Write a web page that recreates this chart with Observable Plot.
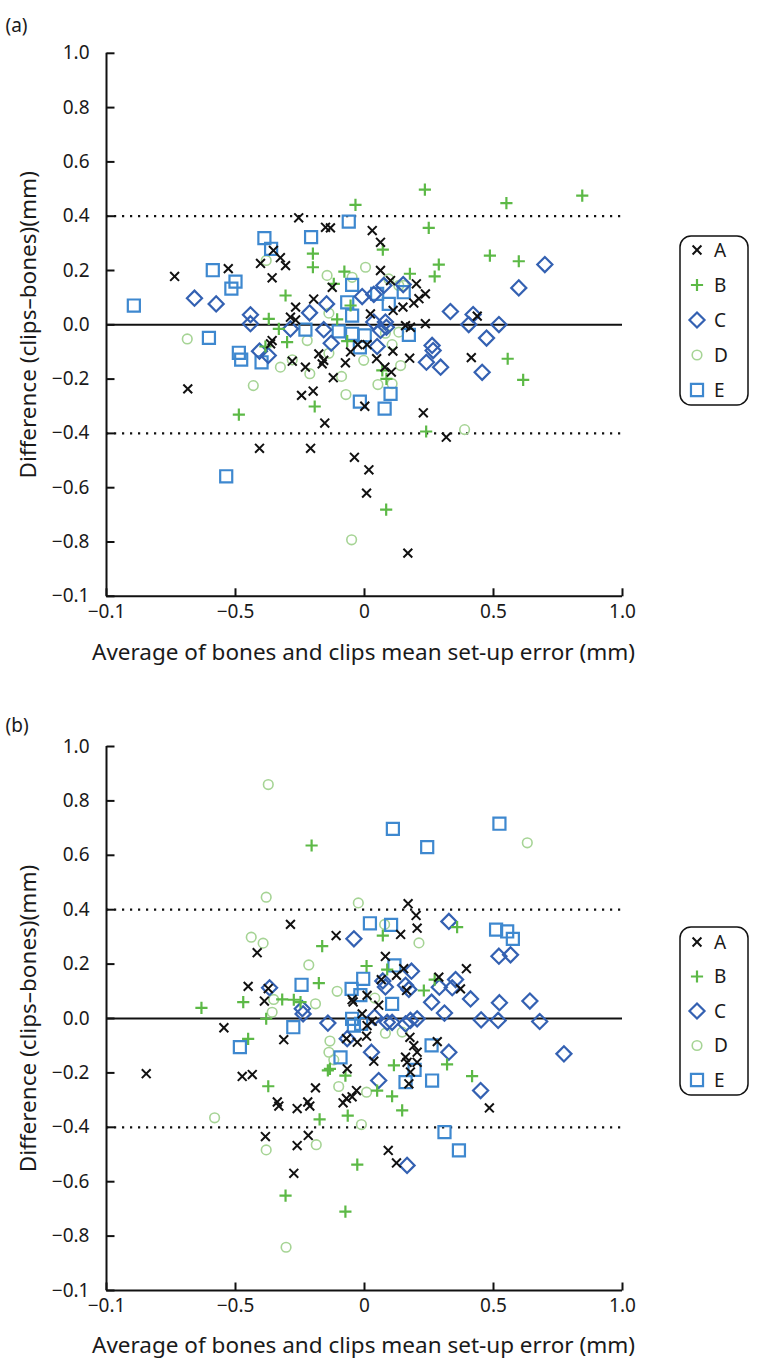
<!DOCTYPE html>
<html><head><meta charset="utf-8">
<script src="https://cdn.jsdelivr.net/npm/d3@7"></script>
<script src="https://cdn.jsdelivr.net/npm/@observablehq/plot@0.6"></script>
<style>
body{margin:0;background:#fff;font-family:"Noto Sans",sans-serif;}
.panel{position:relative;width:760px;}
</style></head><body>
<div id="pa" class="panel"></div>
<div id="pb" class="panel"></div>
<script>
// ---- categories, styles ----
const groups = ["A","B","C","D","E"];
const colors = ["#111111","#5cb946","#3461b2","#a6d495","#3e88cf"];
const symbolNames = ["times","plus","diamond2","circle","square"];
const radii = [4.1,4.0,6.8,4.8,6.8];
const strokeWidths = [2,2.2,2.2,1.6,2.2];
const drawOrder = [3,4,2,1,0];

// ---- axes ----
const xDomain = [-1, 1];
const yDomain = [-1, 1];
const yTicks = [-1,-0.8,-0.6,-0.4,-0.2,0,0.2,0.4,0.6,0.8,1];
const yTickLabels = ["−0.1","−0.8","−0.6","−0.4","−0.2","0.0","0.2","0.4","0.6","0.8","1.0"];
const xTicks = [-1,-0.5,0,0.5,1];
const xTickLabels = ["−0.1","−0.5","0","0.5","1.0"];
const limits = [-0.4, 0.4];
const meanLine = [0];
const xTitle = "Average of bones and clips mean set-up error (mm)";
const yTitle = "Difference (clips–bones)(mm)";

// ---- panel (a) data: [average, difference] ----
const aA = [[-0.736,0.178],[-0.528,0.207],[-0.403,0.226],[-0.358,0.173],[-0.353,0.274],[-0.255,0.394],[-0.151,0.359],[-0.132,0.357],[0.030,0.347],[0.062,0.304],[-0.326,0.247],[-0.306,0.218],[0.062,0.200],[-0.125,0.138],[0.101,0.163],[0.201,0.151],[0.236,0.114],[0.211,0.096],[0.149,0.065],[0.111,0.053],[0.191,0.080],[-0.197,0.095],[-0.267,0.065],[-0.287,0.028],[-0.267,0.018],[0.023,0.040],[0.236,0.004],[0.437,0.032],[-0.358,-0.058],[-0.685,-0.236],[-0.407,-0.455],[-0.209,-0.455],[-0.039,-0.488],[0.017,-0.534],[0.008,-0.620],[0.168,-0.841],[0.228,-0.324],[0.317,-0.414],[-0.154,-0.362],[-0.244,-0.260],[-0.199,-0.244],[0.001,-0.300],[0.104,-0.174],[0.175,-0.123],[-0.121,-0.195],[-0.074,-0.140],[0.047,-0.125],[0.079,-0.156],[-0.177,-0.107],[-0.158,-0.131],[-0.164,-0.144],[-0.229,-0.156],[-0.280,-0.134],[-0.054,-0.100],[-0.364,-0.070],[-0.026,-0.073],[0.010,-0.073],[0.110,-0.097],[0.178,-0.009],[0.159,-0.003],[0.414,-0.121]];
const aB = [[-0.371,0.022],[0.234,0.498],[-0.035,0.442],[0.249,0.357],[0.071,0.277],[-0.200,0.262],[-0.200,0.212],[-0.078,0.196],[0.288,0.222],[0.272,0.178],[0.176,0.188],[-0.119,0.151],[-0.054,0.071],[-0.106,0.020],[-0.306,0.108],[0.550,0.448],[0.844,0.476],[0.486,0.255],[0.598,0.234],[-0.384,-0.080],[-0.487,-0.331],[0.084,-0.681],[0.239,-0.393],[-0.193,-0.301],[0.085,-0.199],[0.069,-0.168],[-0.300,-0.064],[-0.332,-0.015],[-0.067,-0.060],[0.555,-0.125],[0.615,-0.203]];
const aC = [[-0.659,0.098],[-0.575,0.077],[-0.442,0.037],[-0.442,0.004],[0.150,0.148],[0.075,0.145],[0.036,0.112],[-0.009,0.104],[0.333,0.049],[-0.147,0.077],[-0.213,0.044],[0.036,0.010],[0.081,0.010],[0.699,0.222],[0.598,0.136],[0.421,0.038],[0.404,0.001],[0.521,0.001],[-0.407,-0.097],[-0.373,-0.113],[0.240,-0.138],[0.295,-0.156],[0.266,-0.095],[0.262,-0.076],[-0.287,-0.015],[-0.158,-0.018],[-0.129,-0.068],[0.049,-0.080],[0.062,-0.021],[0.085,-0.009],[0.473,-0.049],[0.456,-0.175]];
const aD = [[-0.381,0.237],[-0.145,0.182],[0.004,0.212],[-0.048,0.175],[0.094,0.169],[0.133,0.145],[0.152,0.145],[-0.138,0.043],[-0.687,-0.052],[-0.431,-0.224],[-0.050,-0.792],[-0.072,-0.257],[0.052,-0.220],[0.107,-0.217],[0.140,-0.150],[-0.089,-0.190],[-0.003,-0.131],[-0.212,-0.180],[-0.326,-0.156],[-0.280,-0.129],[-0.138,-0.105],[-0.222,-0.058],[0.081,-0.031],[0.133,-0.027],[0.107,-0.073],[0.388,-0.386]];
const aE = [[-0.894,0.071],[-0.588,0.201],[-0.500,0.159],[-0.516,0.133],[-0.388,0.319],[-0.362,0.280],[-0.061,0.380],[-0.207,0.323],[-0.048,0.147],[0.152,0.120],[0.049,0.114],[0.094,0.077],[-0.067,0.083],[-0.048,0.034],[-0.603,-0.048],[-0.487,-0.103],[-0.478,-0.128],[-0.399,-0.138],[-0.536,-0.558],[-0.018,-0.283],[0.101,-0.254],[0.078,-0.309],[-0.229,-0.018],[-0.100,-0.024],[-0.048,-0.033],[-0.018,-0.083],[0.001,-0.039],[0.172,-0.037]];

// ---- panel (b) data ----
const bA = [[-0.416,0.242],[-0.451,0.118],[-0.373,0.110],[-0.388,0.064],[0.169,0.422],[0.200,0.379],[0.204,0.332],[-0.287,0.346],[0.140,0.309],[-0.110,0.305],[0.081,0.228],[0.124,0.159],[0.152,0.183],[0.065,0.143],[0.163,0.103],[0.288,0.152],[-0.048,0.069],[0.010,0.085],[0.055,0.049],[0.395,0.183],[0.372,0.109],[-0.545,-0.034],[-0.846,-0.203],[-0.474,-0.213],[-0.435,-0.206],[-0.384,-0.434],[-0.313,-0.078],[-0.067,-0.185],[-0.190,-0.255],[-0.031,-0.265],[-0.048,-0.288],[-0.070,-0.294],[-0.083,-0.310],[-0.338,-0.307],[-0.332,-0.322],[-0.261,-0.331],[-0.220,-0.307],[-0.212,-0.322],[-0.218,-0.430],[-0.261,-0.467],[-0.274,-0.569],[0.092,-0.485],[0.124,-0.531],[0.036,-0.157],[-0.070,-0.074],[-0.028,-0.087],[0.008,-0.065],[-0.009,0.017],[0.010,-0.026],[0.030,-0.010],[-0.044,0.061],[0.176,-0.069],[0.191,-0.100],[0.204,-0.124],[0.159,-0.142],[0.165,-0.161],[0.178,-0.197],[0.172,-0.240],[0.204,-0.161],[0.282,-0.085],[0.484,-0.329]];
const bB = [[-0.470,0.060],[-0.632,0.039],[-0.205,0.636],[0.071,0.305],[-0.164,0.266],[0.008,0.193],[0.088,0.180],[-0.177,0.130],[0.230,0.103],[0.272,0.143],[-0.319,0.070],[-0.274,0.069],[-0.248,0.060],[0.359,0.336],[-0.381,-0.001],[-0.451,-0.075],[-0.373,-0.249],[-0.142,-0.191],[-0.134,-0.185],[-0.074,-0.210],[0.049,-0.265],[0.107,-0.286],[0.146,-0.338],[-0.174,-0.371],[-0.065,-0.357],[-0.306,-0.651],[-0.074,-0.710],[-0.028,-0.537],[0.114,-0.172],[0.320,-0.169],[0.417,-0.212]];
const bC = [[-0.368,0.113],[-0.041,0.293],[0.182,0.174],[0.071,0.138],[0.081,0.116],[0.159,0.122],[0.172,0.107],[0.290,0.115],[0.260,0.060],[-0.241,0.036],[0.327,0.357],[0.521,0.229],[0.566,0.234],[0.353,0.143],[0.340,0.113],[0.411,0.072],[0.523,0.058],[0.641,0.064],[0.310,0.020],[-0.238,0.017],[-0.142,-0.017],[0.165,-0.540],[0.027,-0.124],[0.055,-0.228],[-0.067,-0.074],[0.039,0.005],[0.088,-0.014],[0.107,-0.014],[0.159,-0.020],[0.178,-0.007],[0.204,-0.001],[0.327,-0.124],[0.452,-0.005],[0.518,-0.007],[0.679,-0.011],[0.773,-0.130],[0.450,-0.265]];
const bD = [[-0.373,0.860],[-0.381,0.446],[-0.439,0.299],[-0.393,0.277],[-0.024,0.425],[0.078,0.346],[0.211,0.278],[-0.216,0.197],[-0.106,0.100],[0.040,0.075],[-0.190,0.054],[-0.352,0.070],[0.631,0.646],[-0.358,0.023],[-0.581,-0.365],[-0.381,-0.483],[-0.134,-0.083],[-0.138,-0.124],[-0.119,-0.152],[-0.100,-0.250],[0.008,-0.271],[-0.012,-0.390],[-0.187,-0.464],[-0.304,-0.841],[0.081,-0.054],[0.146,-0.050]];
const bE = [[0.110,0.697],[0.243,0.630],[0.021,0.350],[0.103,0.344],[0.116,0.195],[-0.244,0.124],[-0.005,0.146],[-0.050,0.109],[-0.016,0.086],[0.107,0.054],[0.523,0.716],[0.510,0.327],[0.553,0.320],[0.575,0.293],[-0.483,-0.105],[-0.276,-0.032],[-0.093,-0.143],[0.310,-0.418],[-0.048,-0.001],[-0.041,-0.026],[-0.013,-0.020],[0.159,-0.234],[0.194,-0.189],[0.262,-0.228],[0.260,-0.099],[0.366,-0.485]];

const d3Symbols = {times: d3.symbolTimes, plus: d3.symbolPlus, diamond2: d3.symbolDiamond2, circle: d3.symbolCircle, square: d3.symbolSquare};
const tickRight = {draw(ctx){ ctx.moveTo(0,0); ctx.lineTo(8,0); }};
const tickUp = {draw(ctx){ ctx.moveTo(0,0); ctx.lineTo(0,-8); }};
const fmtY = d => yTickLabels[yTicks.findIndex(t => Math.abs(t - d) < 1e-9)];
const fmtX = d => xTickLabels[xTicks.findIndex(t => Math.abs(t - d) < 1e-9)];
const FONT = "'Noto Sans', sans-serif";

function drawPanel(container, cfg) {
  const series = cfg.series;
  const marks = [
    Plot.ruleY(limits, {stroke: "#111", strokeWidth: 2.2, strokeDasharray: "2.2,5.8"}),
    Plot.ruleY(meanLine, {stroke: "#111", strokeWidth: 2}),
  ];
  for (const i of drawOrder) {
    marks.push(Plot.dot(series[i], {x: d => d[0], y: d => d[1], symbol: symbolNames[i], r: radii[i],
      stroke: colors[i], strokeWidth: strokeWidths[i], fill: "none"}));
  }
  marks.push(
    Plot.ruleX([xDomain[0]], {stroke: "#111", strokeWidth: 2}),
    Plot.ruleY([yDomain[0]], {stroke: "#111", strokeWidth: 2}),
    Plot.dot(yTicks, {x: () => xDomain[0], y: d => d, symbol: tickRight, stroke: "#111", strokeWidth: 2, fill: "none"}),
    Plot.dot(xTicks, {x: d => d, y: () => yDomain[0], symbol: tickUp, stroke: "#111", strokeWidth: 2, fill: "none"}),
    Plot.axisY({ticks: yTicks, tickSize: 0, tickPadding: 17, tickFormat: fmtY, fontSize: 19, label: null}),
    Plot.axisX({ticks: xTicks, tickSize: 0, tickPadding: 8, tickFormat: fmtX, fontSize: 19, label: null}),
    Plot.text([xTitle], {text: d => d, frameAnchor: "bottom", dy: cfg.xTitleDy, dx: -1, fontSize: 22.5, textAnchor: "middle"}),
    Plot.text([yTitle], {text: d => d, frameAnchor: "left", dx: -78, rotate: -90, fontSize: 22.5, textAnchor: "middle"}),
    Plot.text([cfg.label], {text: d => d, frameAnchor: "top-left", dx: -101, dy: cfg.labelDy, textAnchor: "start", fontSize: 19})
  );
  const chart = Plot.plot({
    width: 760, height: cfg.height,
    marginLeft: 106, marginRight: 138, marginTop: cfg.marginTop, marginBottom: cfg.height - cfg.marginTop - cfg.frameHeight,
    x: {domain: xDomain}, y: {domain: yDomain},
    style: {fontFamily: FONT, color: "#1a1a1a", background: "white", overflow: "visible"},
    marks
  });
  container.appendChild(chart);

  // legend (vertical, rounded box)
  const lg = cfg.legend;
  const svg = d3.select(container).append("svg")
    .attr("width", 80).attr("height", lg.h + 6)
    .style("position", "absolute").style("left", "676px").style("top", (lg.top - 3) + "px");
  svg.append("rect").attr("x", 4).attr("y", 3).attr("width", 68).attr("height", lg.h).attr("rx", 11)
    .attr("fill", "white").attr("stroke", "#111").attr("stroke-width", 1.5);
  groups.forEach((g, i) => {
    const gy = lg.firstRow - lg.top + 3 + i * lg.step;
    svg.append("path").attr("transform", `translate(21,${gy})`)
      .attr("d", d3.symbol(d3Symbols[symbolNames[i]], Math.PI * radii[i] * radii[i])())
      .attr("fill", "none").attr("stroke", colors[i]).attr("stroke-width", strokeWidths[i]);
    svg.append("text").attr("x", 38).attr("y", gy).attr("dy", "0.36em")
      .attr("font-family", FONT).attr("font-size", 19).attr("fill", "#1a1a1a").text(g);
  });
}

drawPanel(document.getElementById("pa"), {
  series: [aA, aB, aC, aD, aE], label: "(a)", height: 683, marginTop: 52.8, frameHeight: 543,
  xTitleDy: 64, labelDy: -35, legend: {top: 236, h: 169, firstRow: 250, step: 35}
});
drawPanel(document.getElementById("pb"), {
  series: [bA, bB, bC, bD, bE], label: "(b)", height: 682, marginTop: 63, frameHeight: 544,
  xTitleDy: 62, labelDy: -28, legend: {top: 244, h: 168, firstRow: 259, step: 34.5}
});
</script>
</body></html>
